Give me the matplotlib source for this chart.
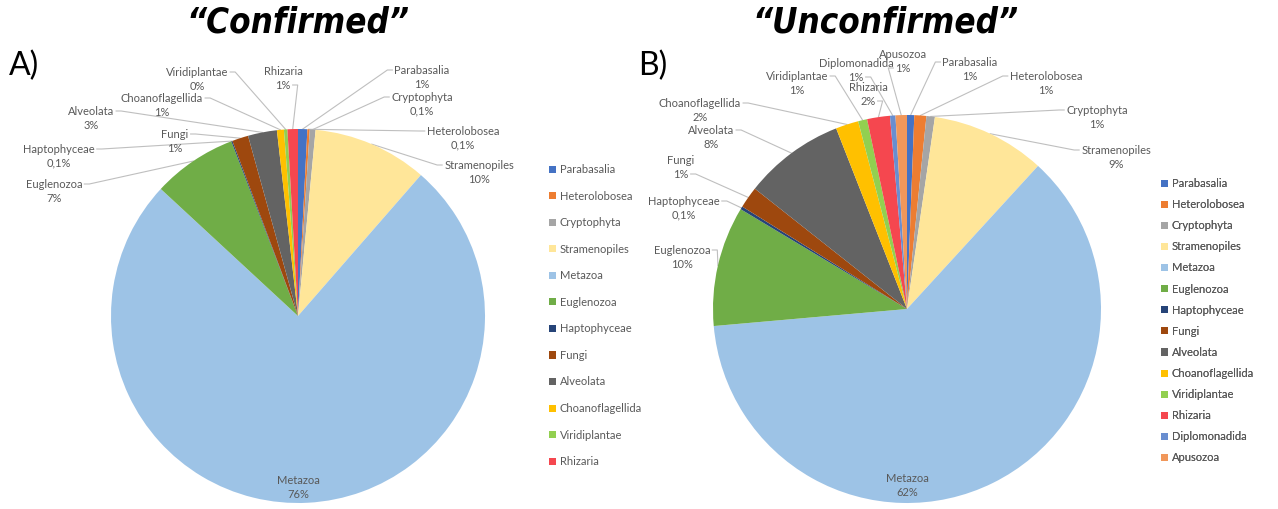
import matplotlib
matplotlib.use("Agg")
import matplotlib.pyplot as plt
import numpy as np

W, H = 1278, 509

# ---- data ----
groups_conf = ["Parabasalia", "Heterolobosea", "Cryptophyta", "Stramenopiles", "Metazoa",
               "Euglenozoa", "Haptophyceae", "Fungi", "Alveolata", "Choanoflagellida",
               "Viridiplantae", "Rhizaria"]
values_conf = [0.8, 0.2, 0.5, 9.9, 75.4, 7.3, 0.1, 1.4, 2.5, 0.6, 0.3, 0.9]
pct_conf = ["1%", "0,1%", "0,1%", "10%", "76%", "7%", "0,1%", "1%", "3%", "1%", "0%", "1%"]

groups_unconf = groups_conf + ["Diplomonadida", "Apusozoa"]
values_unconf = [0.6, 1.0, 0.7, 9.5, 61.8, 10.0, 0.25, 1.8, 8.4, 1.9, 0.75, 1.9, 0.45, 0.95]
pct_unconf = ["1%", "1%", "1%", "9%", "62%", "10%", "0,1%", "1%", "8%", "2%", "1%", "2%", "1%", "1%"]

colors = {"Parabasalia": "#4472C4", "Heterolobosea": "#ED7D31", "Cryptophyta": "#A5A5A5",
          "Stramenopiles": "#FFE699", "Metazoa": "#9DC3E6", "Euglenozoa": "#70AD47",
          "Haptophyceae": "#264478", "Fungi": "#9E480E", "Alveolata": "#636363",
          "Choanoflagellida": "#FFC000", "Viridiplantae": "#92D050", "Rhizaria": "#F5474F",
          "Diplomonadida": "#698ED0", "Apusozoa": "#F1975A"}

# ---- layout (label centres in pixels, from top-left) ----
pos_conf = [(422, 77), (463, 138), (422, 104), (479, 172), (298, 488), (54, 191),
            (59, 156), (175, 141), (91, 118), (162, 105), (197, 79), (283, 78)]
pos_unconf = [(970, 69), (1046, 83), (1097, 117), (1116, 157), (907, 485), (682, 257),
              (684, 208), (681, 167), (711, 137), (700, 110), (797, 83), (868, 94),
              (856, 70), (903, 61)]

txt_col = "#595959"
line_col = "#BFBFBF"
lab_font = ["Lato", "DejaVu Sans"]

fig = plt.figure(figsize=(W / 100, H / 100), dpi=100)
ax = fig.add_axes([0, 0, 1, 1])
renderer = fig.canvas.get_renderer()


def draw_pie(groups, values, pcts, positions, cx, cy, r, leg_xy, leg_spacing):
    cy_d = H - cy
    wedges, _ = ax.pie(values, colors=[colors[g] for g in groups], startangle=90,
                       counterclock=False, center=(cx, cy_d), radius=r,
                       wedgeprops=dict(linewidth=0))
    ax.set_xlim(0, W)
    ax.set_ylim(0, H)
    ax.set_aspect("auto")
    to_data = ax.transData.inverted().frozen()
    for w, g, p, (lx, ly) in zip(wedges, groups, pcts, positions):
        t1 = ax.text(lx, H - ly + 7, g, ha="center", va="center", fontsize=8,
                     color=txt_col, family=lab_font)
        t2 = ax.text(lx, H - ly - 7, p, ha="center", va="center", fontsize=8,
                     color=txt_col, family=lab_font)
        mid = np.deg2rad((w.theta1 + w.theta2) / 2)
        px, py = cx + r * np.cos(mid), cy_d + r * np.sin(mid)
        if np.hypot(px - cx, py - cy_d) > np.hypot(lx - cx, H - ly - cy_d):
            continue  # label inside the pie
        side = 1 if px > lx else -1
        best = None
        for t in (t1, t2):
            bb = t.get_window_extent(renderer).transformed(to_data)
            ex = (bb.x1 + 2) if side > 0 else (bb.x0 - 2)
            ey = (bb.y0 + bb.y1) / 2
            d = np.hypot(px - ex, py - ey)
            if best is None or d < best[0]:
                best = (d, ex, ey)
        _, ex, ey = best
        ax.plot([ex, ex + side * 5, px], [ey, ey, py], color=line_col, lw=0.8, zorder=0)
    leg = ax.legend(wedges, groups, loc="upper left", bbox_to_anchor=leg_xy,
                    bbox_transform=ax.transData, frameon=False,
                    handlelength=0.6, handleheight=0.6, handletextpad=0.35,
                    labelspacing=leg_spacing, borderpad=0, borderaxespad=0,
                    prop=dict(family=lab_font, size=8))
    for tx in leg.get_texts():
        tx.set_color(txt_col)
    ax.add_artist(leg)


draw_pie(groups_conf, values_conf, pct_conf, pos_conf, 298, 316, 187, (549, H - 164), 1.4)
draw_pie(groups_unconf, values_unconf, pct_unconf, pos_unconf, 907, 309, 194, (1161, H - 178), 0.91)

ax.set_xlim(0, W)
ax.set_ylim(0, H)
ax.set_aspect("auto")
ax.axis("off")

ax.text(298, H - 22, "\u201cConfirmed\u201d", ha="center", va="center", fontsize=25,
        fontweight="bold", style="italic", fontstretch="condensed",
        family="DejaVu Sans", color="black")
ax.text(886, H - 22, "\u201cUnconfirmed\u201d", ha="center", va="center", fontsize=25,
        fontweight="bold", style="italic", fontstretch="condensed",
        family="DejaVu Sans", color="black")
ax.text(9, H - 66, "A)", ha="left", va="center", fontsize=23, family=["Lato", "DejaVu Sans"])
ax.text(638, H - 66, "B)", ha="left", va="center", fontsize=23, family=["Lato", "DejaVu Sans"])

fig.savefig("out.png", dpi=100)
